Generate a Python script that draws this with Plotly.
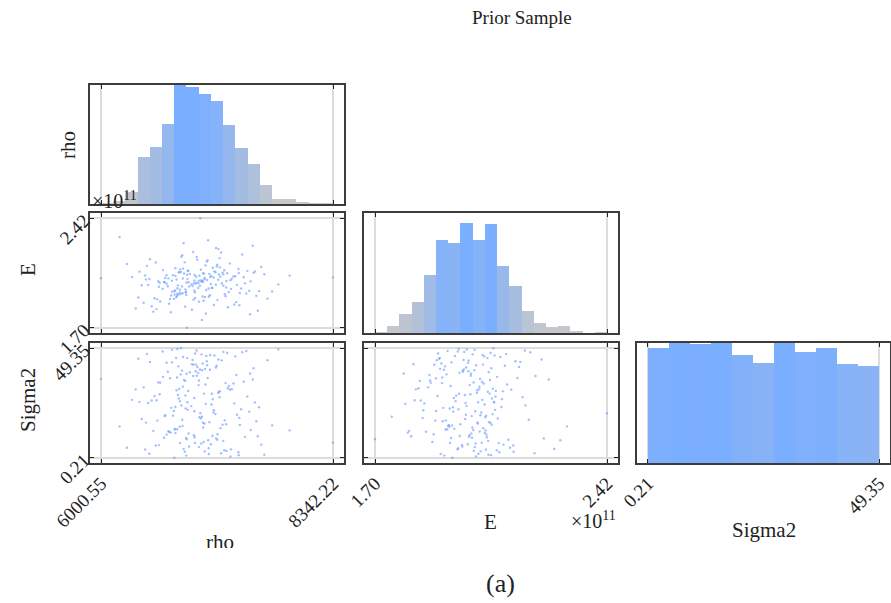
import plotly.graph_objects as go

W, H = 891, 603

# ---------------- data ----------------
param_names = ["rho", "E", "Sigma2"]
rho_min, rho_max = 6000.55, 8342.22
E_min, E_max = 1.70, 2.42          # x 1e11
S_min, S_max = 0.21, 49.35

# histogram bin counts
rho_counts = [1, 3, 14, 55, 67, 93, 139, 137, 129, 120, 92, 65, 47, 22, 6, 6, 2, 1, 1]
E_counts = [1, 9, 24, 40, 75, 121, 117, 142, 121, 141, 87, 61, 28, 13, 8, 9, 2, 0, 1]
S_counts = [94, 98, 97, 98, 88, 82, 98, 91, 94, 81, 79]

# estimated prior sample (subset) for the scatter panels
rho_sample = [
    6912, 7234, 6781, 7045, 6598, 7388, 6853, 7102, 6705, 6967,
    7156, 6378, 6890, 7301, 6748, 7022, 6512, 6945, 7467, 6821,
    6000.55, 7089, 6876, 6663, 7198, 6795, 7012, 6431, 7274, 6938,
    6742, 7129, 6981, 6568, 7356, 6834, 7055, 6709, 7512, 7540,
    6867, 7183, 6623, 6994, 6768, 7245, 6477, 7068, 7402, 7320,
    6925, 6688, 7137, 6850, 7618, 6956, 6541, 7095, 6772, 7213,
    7031, 6805, 6389, 7162, 6918, 6727, 7290, 6989, 6463, 7415,
    6881, 7264, 6759, 7048, 6593, 6973, 7176, 6839, 7497, 6716,
    6949, 7115, 6675, 7008, 6862, 7338, 6528, 7220, 6786, 7583,
    7072, 6736, 6262, 6931, 7191, 6824, 7426, 6643, 7037, 7441,
    6797, 7145, 6884, 7281, 6489, 6999, 6751, 7568, 6870, 7082,
    6697, 7206, 6942, 6808, 7373, 6553, 7026, 6763, 7125, 7505,
    6446, 6985, 7250, 6829, 7059, 6681, 7366, 7649, 6777, 7168,
    7003, 6859, 6578, 7227, 6951, 6315, 7110, 6495, 7596, 7307,
    6818, 7041, 6744, 6966, 7397, 6627, 7087, 6873, 7186, 7728,
    8342.22, 6934, 6790, 7140, 6662, 7015, 6846, 7258, 6412, 7478,
    7063, 6455, 7346, 6897, 6586, 7201, 6770, 6960, 7454, 7532,
    7391, 7119, 6649, 7051, 6812, 7790, 6752, 6990, 7267, 6561,
    6864, 7174, 6718, 7029, 6351, 6943, 7236, 6799, 7100, 7905,
    7019, 6826, 7313, 7553, 7681, 6637, 7077, 6855, 6188, 7160,
]
E_sample_1e9 = [
    198.4, 205.1, 191.7, 201.9, 187.3, 208.6, 195.2, 203.4, 180.2, 199.7,
    206.5, 189.9, 197.1, 212.3, 194.6, 200.8, 184.2, 204.7, 192.5, 217.7,
    202.6, 190.4, 207.3, 198.9, 215.8, 193.1, 201.2, 186.5, 205.9, 199.3,
    194.0, 209.4, 196.2, 188.7, 203.9, 225.6, 211.0, 191.2, 200.5, 206.1,
    170.0, 201.6, 195.7, 204.2, 190.9, 207.8, 198.1, 213.6, 192.9, 202.3,
    197.5, 185.8, 203.0, 183.9, 209.9, 199.0, 189.4, 205.4, 196.0, 219.5,
    200.2, 192.2, 206.9, 222.4, 181.9, 204.5, 193.5, 201.0, 210.7, 195.9,
    207.5, 196.5, 190.1, 202.8, 199.6, 214.7, 188.2, 205.7, 194.3, 200.9,
    193.3, 204.0, 197.3, 208.1, 191.5, 203.7, 180.6, 199.1, 206.3, 181.2,
    201.4, 189.0, 211.9, 219.8, 205.0, 192.7, 218.2, 200.0, 187.8, 203.2,
    195.0, 207.1, 199.9, 183.5, 202.1, 197.6, 209.2, 191.0, 204.9, 227.5,
    188.9, 203.6, 194.5, 206.7, 198.2, 212.9, 190.6, 201.7, 196.3, 178.9,
    204.4, 199.4, 192.0, 208.9, 179.4, 202.5, 186.9, 205.2, 197.9, 210.3,
    242.0, 193.6, 200.6, 206.2, 189.6, 203.3, 198.8, 215.1, 194.2, 201.3,
    197.2, 205.6, 191.9, 216.5, 184.8, 207.9, 195.8, 202.0, 221.7, 193.9,
    203.1, 188.4, 206.6, 185.0, 204.6, 200.3, 213.0, 190.8, 198.0, 207.4,
    194.8, 201.8, 185.3, 205.3, 197.0, 209.7, 192.4, 203.5, 199.2, 223.9,
    206.0, 196.1, 202.7, 190.2, 216.7, 198.5, 204.1, 187.1, 200.7, 182.3,
    199.8, 211.4, 193.7, 205.8, 182.7, 201.1, 197.7, 208.4, 191.4, 204.3,
    175.2, 202.4, 195.6, 207.0, 189.2, 200.1, 214.2, 193.2, 229.6, 198.3,
]
S_sample = [
    23.4, 7.8, 41.2, 15.6, 33.9, 2.7, 28.1, 46.3, 11.5, 37.0,
    19.8, 44.6, 5.3, 30.7, 13.2, 39.5, 25.9, 9.4, 48.1, 17.3,
    35.6, 1.9, 21.7, 42.8, 27.4, 14.1, 6.6, 31.8, 47.2, 10.3,
    0.21, 26.5, 38.3, 16.9, 45.7, 4.2, 33.1, 22.6, 12.7, 40.4,
    8.5, 29.3, 47.9, 18.4, 36.2, 3.6, 24.8, 43.5, 14.9, 31.0,
    44.1, 11.9, 20.5, 34.7, 6.1, 39.0, 27.9, 16.2, 49.0, 2.3,
    13.8, 37.6, 25.3, 8.9, 42.2, 19.1, 32.4, 5.0, 46.8, 22.0,
    30.2, 15.3, 45.0, 3.1, 28.7, 40.9, 10.8, 35.1, 20.9, 48.6,
    6.9, 24.1, 38.8, 17.8, 1.2, 33.5, 12.3, 43.9, 26.8, 9.9,
    41.7, 21.2, 4.7, 36.9, 29.8, 14.5, 47.5, 18.9, 7.3, 34.3,
    25.6, 46.1, 11.1, 31.4, 2.0, 39.8, 23.0, 16.6, 44.9, 8.1,
    35.9, 13.5, 27.0, 49.35, 19.5, 5.7, 42.5, 30.5, 10.0, 38.0,
    3.9, 32.8, 17.0, 45.4, 24.4, 12.0, 37.3, 1.6, 28.4, 41.5,
    20.2, 9.1, 34.0, 15.0, 47.0, 26.2, 6.3, 43.2, 22.9, 0.8,
    39.3, 29.0, 12.9, 48.3, 18.1, 36.5, 4.5, 25.1, 44.3, 14.7,
    7.0, 41.9, 31.2, 21.5, 10.6, 46.6, 2.9, 33.7, 17.6, 27.7,
    45.9, 16.0, 24.6, 38.6, 5.9, 30.0, 13.0, 42.0, 9.6, 35.3,
    1.4, 28.9, 19.3, 40.1, 23.7, 48.8, 11.3, 34.9, 3.3, 26.0,
    37.9, 8.3, 43.0, 15.9, 30.9, 21.1, 47.7, 6.8, 39.7, 12.5,
    18.6, 32.1, 4.0, 25.0, 44.0, 9.2, 36.0, 22.3, 14.3, 40.7,
]
E_sample = [v / 100.0 for v in E_sample_1e9]   # in units of 1e11

tick_rho = ["6000.55", "8342.22"]
tick_E = ["1.70", "2.42"]
tick_S = ["0.21", "49.35"]

# ---------------- styling ----------------
FONT = "'Liberation Serif', 'DejaVu Serif', serif"
BLUE = "#7aaeff"
GRAY = "#c9c9c9"
PAD = 0.0474


def rng(lo, hi):
    d = (hi - lo) * PAD
    return [lo - d, hi + d]


def px_x(a, b):
    return [a / W, b / W]


def px_y(top, bottom):
    return [1 - bottom / H, 1 - top / H]


colx = [px_x(90, 344), px_x(364, 618), px_x(637, 890)]
rowy = [px_y(85, 204), px_y(213, 333), px_y(343, 463)]

fig = go.Figure()


def bar_trace(counts, lo, hi, xa, ya):
    n = len(counts)
    w = (hi - lo) / n
    centers = [lo + (i + 0.5) * w for i in range(n)]
    return go.Bar(
        x=centers, y=counts, width=w, xaxis=xa, yaxis=ya,
        marker=dict(color=counts, colorscale=[[0, GRAY], [1, BLUE]],
                    cmin=0, cmax=max(counts), line=dict(width=0)),
        showlegend=False, hoverinfo="skip",
    )


def scat_trace(xs, ys, xa, ya):
    return go.Scatter(
        x=xs, y=ys, mode="markers", xaxis=xa, yaxis=ya,
        marker=dict(size=2.4, color="rgba(100,150,255,0.6)", line=dict(width=0)),
        showlegend=False, hoverinfo="skip",
    )


fig.add_trace(bar_trace(rho_counts, rho_min, rho_max, "x", "y"))
fig.add_trace(scat_trace(rho_sample, E_sample, "x2", "y2"))
fig.add_trace(scat_trace(rho_sample, S_sample, "x3", "y3"))
fig.add_trace(bar_trace(E_counts, E_min, E_max, "x4", "y4"))
fig.add_trace(scat_trace(E_sample, S_sample, "x5", "y5"))
fig.add_trace(bar_trace(S_counts, S_min, S_max, "x6", "y6"))

# clipped x label "rho" (cut by the bottom of the figure area)
fig.add_trace(go.Scatter(
    x=[0.5], y=[0.3], mode="text", text=["rho"], textposition="bottom center",
    textfont=dict(family=FONT, size=21, color="#222"),
    xaxis="x7", yaxis="y7", cliponaxis=True, showlegend=False, hoverinfo="skip",
))

tickfont = dict(family=FONT, size=19, color="#222")
common = dict(showline=True, linewidth=2, linecolor="#3c3c3c", mirror="ticks",
              ticks="inside", ticklen=4, tickwidth=1, tickcolor="#222",
              zeroline=False, gridcolor="#dcdcdc", gridwidth=2, fixedrange=True,
              automargin=False)


def xaxis(domain, r, vals, text, labels, anchor):
    return dict(domain=domain, range=r, tickvals=vals, ticktext=text,
                showticklabels=labels, tickangle=-45, tickfont=tickfont,
                showgrid=True, anchor=anchor, **common)


def yaxis_sc(domain, r, vals, text, labels, anchor):
    return dict(domain=domain, range=r, tickvals=vals, ticktext=text,
                showticklabels=labels, tickangle=-45, tickfont=tickfont,
                showgrid=True, anchor=anchor, **common)


def yaxis_hist(domain, top, anchor):
    return dict(domain=domain, range=[0, top], showticklabels=False,
                ticks="", showgrid=False, zeroline=False, showline=True,
                linewidth=2, linecolor="#3c3c3c", mirror=True, anchor=anchor,
                fixedrange=True, automargin=False)


r_rho, r_E, r_S = rng(rho_min, rho_max), rng(E_min, E_max), rng(S_min, S_max)
v_rho, v_E, v_S = [rho_min, rho_max], [E_min, E_max], [S_min, S_max]

fig.update_layout(
    width=W, height=H, margin=dict(l=0, r=0, t=0, b=0, autoexpand=False),
    paper_bgcolor="white", plot_bgcolor="white", bargap=0,
    xaxis=xaxis(colx[0], r_rho, v_rho, tick_rho, False, "y"),
    yaxis=yaxis_hist(rowy[0], max(rho_counts), "x"),
    xaxis2=xaxis(colx[0], r_rho, v_rho, tick_rho, False, "y2"),
    yaxis2=yaxis_sc(rowy[1], r_E, v_E, tick_E, True, "x2"),
    xaxis3=xaxis(colx[0], r_rho, v_rho, tick_rho, True, "y3"),
    yaxis3=yaxis_sc(rowy[2], r_S, v_S, tick_S, True, "x3"),
    xaxis4=xaxis(colx[1], r_E, v_E, tick_E, False, "y4"),
    yaxis4=yaxis_hist(rowy[1], max(E_counts) * 1.095, "x4"),
    xaxis5=xaxis(colx[1], r_E, v_E, tick_E, True, "y5"),
    yaxis5=yaxis_sc(rowy[2], r_S, v_S, tick_S, False, "x5"),
    xaxis6=xaxis(colx[2], r_S, v_S, tick_S, True, "y6"),
    yaxis6=yaxis_hist(rowy[2], max(S_counts), "x6"),
    xaxis7=dict(domain=px_x(170, 270), range=[0, 1], visible=False, anchor="y7",
                fixedrange=True, automargin=False),
    yaxis7=dict(domain=px_y(500, 548), range=[0, 1], visible=False, anchor="x7",
                fixedrange=True, automargin=False),
)

ann = []


def text(x, y, s, size, angle=0, xanchor="center", yanchor="middle"):
    ann.append(dict(x=x / W, y=1 - y / H, xref="paper", yref="paper", text=s,
                    showarrow=False, textangle=angle, xanchor=xanchor, yanchor=yanchor,
                    font=dict(family=FONT, size=size, color="#222")))


text(522, 18, "Prior Sample", 19)
text(68, 145, param_names[0], 21, angle=-90)
text(28, 270, param_names[1], 21, angle=-90)
text(28, 400, param_names[2], 21, angle=-90)
text(490, 522, param_names[1], 21)
text(764, 530, param_names[2], 21)
text(114, 200, "×10<sup>11</sup>", 20)
text(618, 520, "×10<sup>11</sup>", 20, xanchor="right")
text(500, 583, "(a)", 26)
fig.update_layout(annotations=ann)

fig.write_html("out.html")
